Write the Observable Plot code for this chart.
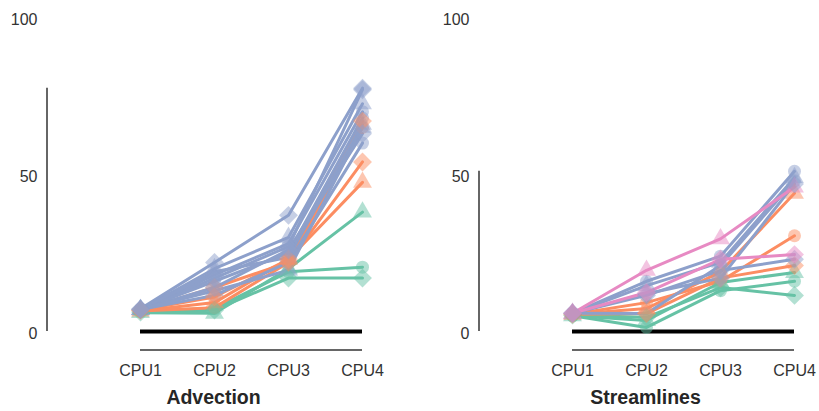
<!DOCTYPE html>
<html><head><meta charset="utf-8">
<script src="https://cdn.jsdelivr.net/npm/d3@7"></script>
<script src="https://cdn.jsdelivr.net/npm/@observablehq/plot@0.6"></script>
<style>
body{margin:0;background:#fff}
#wrap{display:flex;width:819px;height:411px}
svg{font-family:"Liberation Sans",Arial,sans-serif}
</style>
</head><body><div id="wrap"></div>
<script>
const cpus = ["CPU1", "CPU2", "CPU3", "CPU4"];
const yTicks = [0, 50, 100];
const groupNames = ["g", "o", "b", "p"];
const palette = ["#66c2a5", "#fc8d62", "#8da0cb", "#e78ac3"];

// Advection
const advTitle = "Advection";
const advGroups = ["g", "g", "g", "o", "o", "o", "o", "b", "b", "b", "b", "b", "b", "b", "b", "b"];
const advSymbols = ["circle", "diamond2", "triangle", "circle", "triangle", "diamond2", "diamond2",
  "diamond2", "triangle", "circle", "diamond2", "circle", "triangle", "diamond2", "circle", "triangle"];
const advValues = [
  [6.5, 7.3, 19, 20.5],
  [6.2, 6.8, 17, 17],
  [6.0, 5.8, 20, 38],
  [6.5, 7.6, 22, 65],
  [6.5, 9.2, 23, 47.5],
  [6.8, 14, 22, 54],
  [6.8, 11, 23, 67],
  [7.2, 22, 37, 77.5],
  [7.0, 20, 30, 72.5],
  [7.0, 18, 28, 70],
  [7.0, 17, 27, 77],
  [7.0, 16, 25, 68],
  [7.0, 19, 23.6, 66],
  [7.0, 14, 26, 63],
  [7.0, 11.5, 22, 60],
  [7.0, 13, 19.5, 65]
];

// Streamlines
const strTitle = "Streamlines";
const strGroups = ["g", "g", "g", "o", "o", "o", "b", "b", "b", "b", "b", "p", "p"];
const strSymbols = ["circle", "diamond2", "triangle", "triangle", "circle", "diamond2",
  "circle", "triangle", "diamond2", "circle", "diamond2", "triangle", "diamond2"];
const strValues = [
  [5.0, 1.3, 13, 16],
  [5.2, 4.5, 14, 11.5],
  [5.0, 3.5, 15.6, 18.8],
  [5.5, 7.3, 19, 44],
  [5.5, 9.2, 16, 30.5],
  [5.5, 5.7, 17, 21],
  [5.8, 16, 24, 51],
  [5.8, 14.6, 22, 49],
  [5.8, 11.5, 19.4, 23],
  [5.8, 5.7, 21, 48],
  [5.8, 12, 17, 47],
  [5.8, 19.5, 29.5, 46],
  [5.8, 12.4, 23, 24.5]
];

function panel({title, groups, symbols, values, width, marginLeft, marginRight, xRange}) {
  const rows = [];
  values.forEach((vals, i) => vals.forEach((v, j) =>
    rows.push({series: i, group: groups[i], symbol: symbols[i], cpu: cpus[j], value: v})));
  const maxV = d3.max(rows, d => d.value);
  const rOf = {circle: 6.5, triangle: 7, diamond2: 8.5};
  const dotMarks = ["circle", "triangle", "diamond2"].map(s =>
    Plot.dot(rows.filter(d => d.symbol === s), {
      x: "cpu", y: "value", symbol: s, r: rOf[s], fill: "group", fillOpacity: 0.5, stroke: "none"
    }));
  const plot = Plot.plot({
    width, height: 411, marginLeft, marginRight, marginTop: 17, marginBottom: 61,
    x: {type: "point", domain: cpus, range: xRange, padding: 0},
    y: {domain: [0, 100], range: [331, 17]},
    color: {domain: groupNames, range: palette},
    style: {fontSize: "16px", fontFamily: '"Liberation Sans", Arial, sans-serif', color: "#333", background: "#fff"},
    marks: [
      Plot.axisY(yTicks, {tickSize: 0, tickPadding: 10, fontSize: 16, label: null, dy: 2}),
      Plot.axisX({tickSize: 0, tickPadding: 14, fontSize: 16, label: null}),
      Plot.ruleY([0], {x1: () => cpus[0], x2: () => cpus[cpus.length - 1], stroke: "#000", strokeWidth: 4}),
      Plot.lineY(rows, {x: "cpu", y: "value", z: "series", stroke: "group", strokeWidth: 3, strokeLinejoin: "round"}),
      ...dotMarks,
      Plot.text([title], {frameAnchor: "bottom", lineAnchor: "middle", dy: 47, fontWeight: "bold", fontSize: 19.5, fill: "#262626"})
    ]
  });
  const ys = plot.scale("y"), xs = plot.scale("x");
  const svg = d3.select(plot);
  svg.append("line")
    .attr("x1", marginLeft).attr("x2", marginLeft)
    .attr("y1", ys.apply(0)).attr("y2", ys.apply(maxV))
    .attr("stroke", "#333").attr("stroke-width", 1.5);
  let xa = xs.apply(cpus[0]), xb = xs.apply(cpus[cpus.length - 1]);
  if (!Number.isFinite(xa)) xa = xs.range[0];
  if (!Number.isFinite(xb)) xb = xs.range[1];
  svg.append("line")
    .attr("x1", xa).attr("x2", xb)
    .attr("y1", 411 - 61).attr("y2", 411 - 61)
    .attr("stroke", "#333").attr("stroke-width", 1.3);
  return plot;
}

const wrap = document.getElementById("wrap");
wrap.append(panel({title: advTitle, groups: advGroups, symbols: advSymbols, values: advValues,
  width: 410, marginLeft: 47, marginRight: 31, xRange: [140, 362]}));
wrap.append(panel({title: strTitle, groups: strGroups, symbols: strSymbols, values: strValues,
  width: 409, marginLeft: 69, marginRight: 8, xRange: [161, 385]}));
</script>
</body></html>
